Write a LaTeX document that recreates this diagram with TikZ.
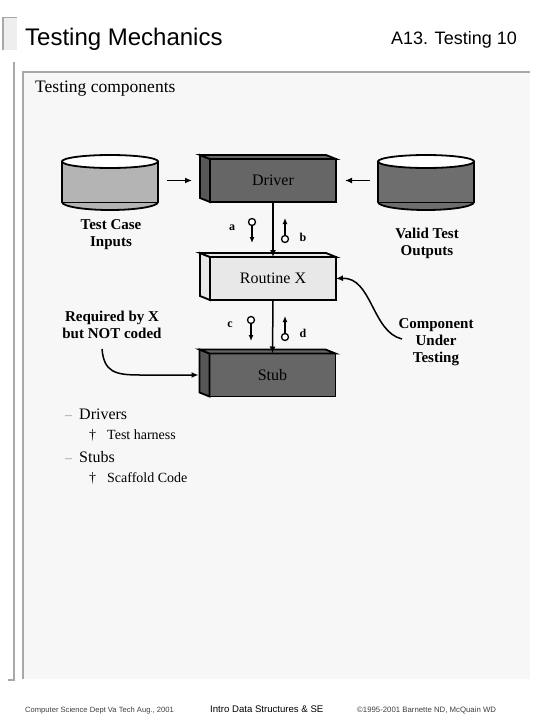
\documentclass[tikz,border=0pt]{standalone}
\usepackage{fontspec}
\setmainfont{Liberation Serif}
\newfontfamily\slidefont{Liberation Sans}
\usepackage{tikz}
\usetikzlibrary{arrows.meta, calc}
\definecolor{panelbg}{RGB}{247,247,247}
\definecolor{railgray}{RGB}{168,168,168}
\definecolor{tabgray}{RGB}{238,238,238}
\definecolor{drivercolor}{RGB}{102,102,102}
\definecolor{routinecolor}{RGB}{232,232,232}
\definecolor{inputcolor}{RGB}{180,180,180}
\definecolor{outputcolor}{RGB}{110,110,110}
\definecolor{bulletgray}{RGB}{150,150,150}

\tikzset{
  face/.style={draw, line width=1.8pt, minimum width=126pt, minimum height=43pt,
    inner sep=0pt, outer sep=0pt, font=\fontsize{16}{18}\selectfont},
  canspot/.style={minimum width=96pt, minimum height=55pt, inner sep=0pt},
  flow/.style={-{Latex[length=7pt, width=6pt]}, line width=1.5pt},
  token/.style={-{Latex[length=6pt, width=5pt]}, line width=1.5pt},
  tokdot/.style={circle, draw, line width=1.3pt, fill=white, minimum size=7pt, inner sep=0pt},
  tag/.style={font=\bfseries\fontsize{15}{17}\selectfont, align=center},
  pin/.style={font=\bfseries\fontsize{12}{14}\selectfont},
  plain/.style={anchor=base west, inner sep=0pt},
}

\begin{document}
\begin{tikzpicture}[x=1pt, y=-1pt]
    \useasboundingbox (0,0) rectangle (540,720);
    \fill[white] (0,0) rectangle (540,720);

    % === SLIDE FRAME ===
    \fill[tabgray] (2,17) rectangle (17,50);
    \draw[railgray, line width=1.5pt] (3,50) -- (3,17.5) -- (17,17.5);
    \fill[panelbg] (22.5,72) rectangle (530,679);
    \draw[railgray, line width=2pt] (22.5,679) -- (22.5,72) -- (530,72);
    \draw[railgray, line width=2pt] (13.5,62) -- (13.5,680) -- (8,680);

    \node[plain, font=\slidefont\fontsize{24}{28}\selectfont] (title) at (25,45) {Testing Mechanics};
    \node[plain, anchor=base east, font=\slidefont\fontsize{18}{20}\selectfont] (slideno) at (517,44) {A13. Testing 10};
    \node[plain, font=\fontsize{17.5}{20}\selectfont] (heading) at (35,92) {Testing components};

    % === TEST CASE INPUTS (CAN) ===
    \node[canspot] (tci) at (110,180.5) {};
    \draw[fill=inputcolor, line width=1.8pt] (62,161.5) -- (62,202)
        arc[start angle=180, end angle=0, x radius=48, y radius=8] -- (158,161.5) -- cycle;
    \draw[line width=1pt] (62,202) -- (158,202);
    \draw[fill=white, line width=1.8pt] (110,161.5) ellipse[x radius=48, y radius=6.5];
    \node[tag] (tcilbl) at (111,235) {Test Case\\Inputs};

    % === VALID TEST OUTPUTS (CAN) ===
    \node[canspot] (tvo) at (426,180.5) {};
    \draw[fill=outputcolor, line width=1.8pt] (378,161.5) -- (378,202)
        arc[start angle=180, end angle=0, x radius=48, y radius=8] -- (474,161.5) -- cycle;
    \draw[line width=1pt] (378,202) -- (474,202);
    \draw[fill=white, line width=1.8pt] (426,161.5) ellipse[x radius=48, y radius=6.5];
    \node[tag] (tvolbl) at (427,243) {Valid Test\\Outputs};

    % === DRIVER ===
    \node[face, fill=drivercolor] (drv) at (273,180.5) {Driver};
    \draw[fill=drivercolor!85!black, line width=1.8pt] (drv.north west) -- ++(-10,-4) -- ++(0,43) -- (drv.south west) -- cycle;
    \draw[fill=drivercolor, line width=1.8pt] (drv.north west) -- ++(-10,-4) -- ++(126,0) -- (drv.north east) -- cycle;

    % === ROUTINE X ===
    \node[face, fill=routinecolor] (rtx) at (273,278.5) {Routine X};
    \draw[fill=routinecolor, line width=1.8pt] (rtx.north west) -- ++(-10,-4) -- ++(0,43) -- (rtx.south west) -- cycle;
    \draw[fill=routinecolor, line width=1.8pt] (rtx.north west) -- ++(-10,-4) -- ++(126,0) -- (rtx.north east) -- cycle;

    % === STUB ===
    \node[face, fill=drivercolor] (stb) at (272.5,375) {Stub};
    \draw[fill=drivercolor!85!black, line width=1.8pt] (stb.north west) -- ++(-10,-4) -- ++(0,43) -- (stb.south west) -- cycle;
    \draw[fill=drivercolor, line width=1.8pt] (stb.north west) -- ++(-10,-4) -- ++(126,0) -- (stb.north east) -- cycle;

    % === CALLS ===
    \draw[flow, shorten <=9pt, shorten >=18pt] (tci.east) -- (drv.west);
    \draw[flow, shorten <=8pt, shorten >=9pt] (tvo.west) -- (drv.east);
    \draw[flow] (drv.south) -- (rtx.north);
    \draw[flow] (rtx.south) -- (stb.north);

    % parameters a, b
    \node[tokdot] (dota) at (252,222) {};
    \coordinate (tipa) at (252,243);
    \draw[token] (dota) -- (tipa);
    \node[pin] (la) at (232,228) {a};
    \node[tokdot] (dotb) at (285,239) {};
    \coordinate (tipb) at (285,218);
    \draw[token] (dotb) -- (tipb);
    \node[pin] (lb) at (303,237) {b};

    % parameters c, d
    \node[tokdot] (dotc) at (251,320) {};
    \coordinate (tipc) at (251,341);
    \draw[token] (dotc) -- (tipc);
    \node[pin] (lc) at (230,325) {c};
    \node[tokdot] (dotd) at (285,337) {};
    \coordinate (tipd) at (285,316);
    \draw[token] (dotd) -- (tipd);
    \node[pin] (ld) at (303,333) {d};

    % === POINTERS ===
    \node[tag] (cut) at (436,342) {Component\\Under\\Testing};
    \coordinate (cuttail) at (402,339);
    \draw[flow] (cuttail) .. controls (372,332) and (372,277) .. (rtx.east);

    \node[tag] (req) at (112,325) {Required by X\\but NOT coded};
    \coordinate (reqtail) at (102,349);
    \draw[flow, shorten >=11pt] (reqtail) .. controls (104,372) and (115,375) .. (140,375) -- (stb.west);

    % === BULLETS ===
    \node[plain, text=bulletgray, font=\fontsize{14}{16}\selectfont] (dash1) at (65,419) {–};
    \node[plain, font=\fontsize{16}{18}\selectfont] (drivers) at (79,419) {Drivers};
    \node[plain, font=\fontsize{14}{16}\selectfont] (dag1) at (89,439) {†};
    \node[plain, font=\fontsize{14}{16}\selectfont] (harness) at (107,439) {Test harness};
    \node[plain, text=bulletgray, font=\fontsize{14}{16}\selectfont] (dash2) at (65,462) {–};
    \node[plain, font=\fontsize{16}{18}\selectfont] (stubs) at (79,462) {Stubs};
    \node[plain, font=\fontsize{14}{16}\selectfont] (dag2) at (89,482) {†};
    \node[plain, font=\fontsize{14}{16}\selectfont] (scaffold) at (107,482) {Scaffold Code};

    % === FOOTER ===
    \node[plain, text=black!75, font=\slidefont\fontsize{7.6}{9}\selectfont] (foot1) at (25,712) {Computer Science Dept Va Tech Aug., 2001};
    \node[plain, font=\slidefont\fontsize{9.6}{11}\selectfont] (foot2) at (210,712) {Intro Data Structures \& SE};
    \node[plain, text=black!75, font=\slidefont\fontsize{7.8}{9}\selectfont] (foot3) at (357,712) {©1995-2001 Barnette ND, McQuain WD};
\end{tikzpicture}
\end{document}
